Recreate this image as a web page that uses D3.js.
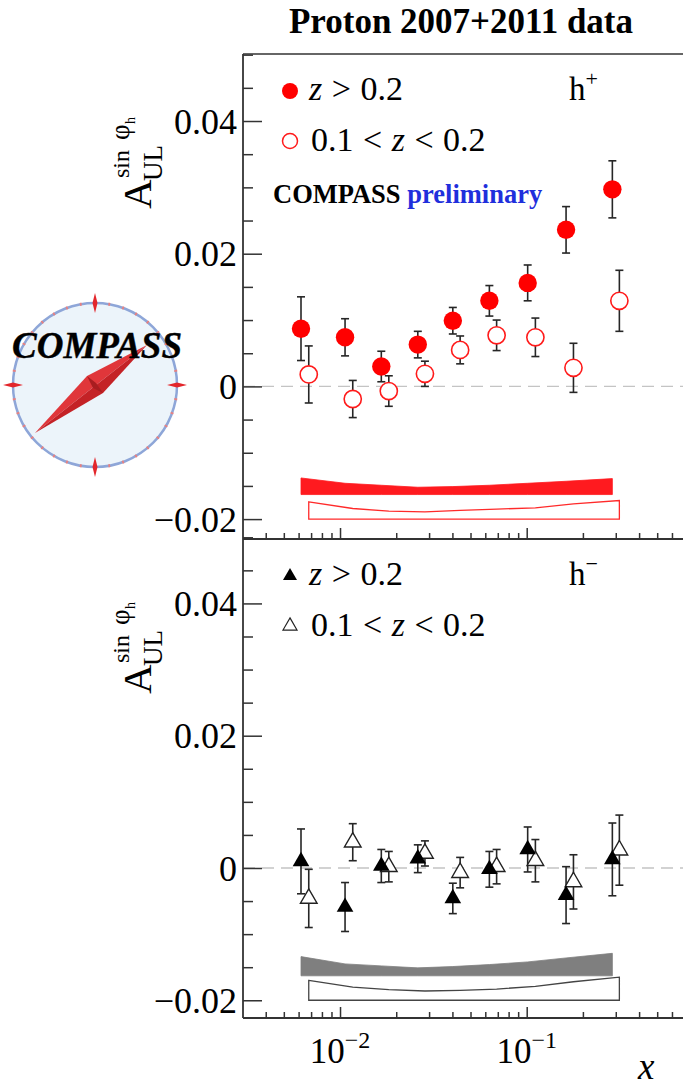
<!DOCTYPE html>
<html><head><meta charset="utf-8">
<script src="https://cdn.jsdelivr.net/npm/d3@7"></script>
<style>
body{margin:0;background:#fff}
svg{display:block}
svg text{font-family:"Liberation Serif","Times New Roman","DejaVu Serif",serif !important;fill:#000}
</style>
</head><body>
<svg id="c" width="683" height="1088"></svg>
<script>
// ---------------- data ----------------
const xHigh = [0.00618, 0.01064, 0.01664, 0.0261, 0.0402, 0.0631, 0.1012, 0.1625, 0.2876]; // z > 0.2
const xLow  = [0.00680, 0.01170, 0.01825, 0.0285, 0.0440, 0.0690, 0.1113, 0.178, 0.3136]; // 0.1 < z < 0.2

// h+ (top panel)
const hpHighVal = [0.0087, 0.0074, 0.0030, 0.0063, 0.0099, 0.0129, 0.0156, 0.0236, 0.0297];
const hpHighErr = [0.0048, 0.0028, 0.0023, 0.0020, 0.0020, 0.0023, 0.0027, 0.0035, 0.0043];
const hpHighSys = [0.0025, 0.0017, 0.0014, 0.0011, 0.0012, 0.0014, 0.0017, 0.0020, 0.0024];
const hpLowVal  = [0.0018, -0.0019, -0.0007, 0.0019, 0.0055, 0.0077, 0.0074, 0.0028, 0.0129];
const hpLowErr  = [0.0043, 0.0028, 0.0023, 0.0019, 0.0021, 0.0023, 0.0029, 0.0037, 0.0046];
const hpLowSys  = [0.0026, 0.0016, 0.0012, 0.0011, 0.0013, 0.0015, 0.0017, 0.0023, 0.0028];

// h- (bottom panel)
const hmHighVal = [0.0010, -0.0059, 0.0003, 0.0014, -0.0046, -0.0002, 0.0028, -0.0041, 0.0013];
const hmHighErr = [0.0049, 0.0037, 0.0025, 0.0021, 0.0023, 0.0027, 0.0034, 0.0043, 0.0055];
const hmHighSys = [0.0029, 0.0018, 0.0015, 0.0012, 0.0014, 0.0017, 0.0021, 0.0027, 0.0034];
const hmLowVal  = [-0.0046, 0.0039, 0.0002, 0.0022, -0.0007, 0.0002, 0.0011, -0.0021, 0.0027];
const hmLowErr  = [0.0044, 0.0028, 0.0023, 0.0019, 0.0023, 0.0026, 0.0032, 0.0041, 0.0053];
const hmLowSys  = [0.0030, 0.0020, 0.0016, 0.0014, 0.0015, 0.0017, 0.0021, 0.0028, 0.0035];

// systematic band baselines
const bandBaseHigh = -0.0163;
const bandBaseLow  = -0.0200;

const yMajorTicks = [-0.02, 0, 0.02, 0.04];
const yMinorTicks = d3.range(-0.02, 0.0501, 0.005).map(v => +v.toFixed(3)).filter(v => !yMajorTicks.some(m => Math.abs(m - v) < 1e-9));
const xMajorTicks = [0.01, 0.1];
const xMajorLabels = ["−2", "−1"];
const xMinorTicks = [0.004,0.005,0.006,0.007,0.008,0.009,0.02,0.03,0.04,0.05,0.06,0.07,0.08,0.09,0.2,0.3,0.4,0.5,0.6];

// ---------------- layout ----------------
const FONT = '"Liberation Serif","Times New Roman","DejaVu Serif",serif';
const svg = d3.select("#c");
const L = 243, R = 683;
const x = d3.scaleLog().domain([0.003022, 0.6874]).range([L, R]);
const yTop = d3.scaleLinear().domain([-0.0230, 0.0501]).range([539, 54]);
const yBot = d3.scaleLinear().domain([-0.02268, 0.04974]).range([1018, 539]);
const AX = "#333";

// title
svg.append("text").attr("x", 461).attr("y", 33).attr("text-anchor", "middle")
  .attr("font-size", 35).attr("font-weight", "bold").text("Proton 2007+2011 data");

// ---------------- logo ----------------
(function logo(){
  const cx = 95, cy = 385, r = 82;
  const g = svg.append("g");
  g.append("circle").attr("cx", cx).attr("cy", cy).attr("r", r)
    .attr("fill", "#ecf4fa").attr("stroke", "#8ea6d8").attr("stroke-width", 2.5);
  for (let a = 0; a < 360; a += 10) {
    if (a % 90 === 0) continue;
    const t = a * Math.PI / 180;
    g.append("line")
      .attr("x1", cx + (r - 1.5) * Math.cos(t)).attr("y1", cy + (r - 1.5) * Math.sin(t))
      .attr("x2", cx + (r + 1.5) * Math.cos(t)).attr("y2", cy + (r + 1.5) * Math.sin(t))
      .attr("stroke", "#e88080").attr("stroke-width", 1.8);
  }
  for (let a = 0; a < 360; a += 90) {
    const t = a * Math.PI / 180, c = Math.cos(t), s = Math.sin(t);
    const pts = [[cx + (r - 10) * c, cy + (r - 10) * s],
                 [cx + r * c - 2.5 * s, cy + r * s + 2.5 * c],
                 [cx + (r + 10) * c, cy + (r + 10) * s],
                 [cx + r * c + 2.5 * s, cy + r * s - 2.5 * c]];
    g.append("polygon").attr("points", pts.map(p => p.join(",")).join(" ")).attr("fill", "#e3262b");
  }
  const tA = [35, 433], s1 = [87, 376], tB = [147, 345], s2 = [103, 393];
  g.append("polygon").attr("points", [tA, s1, tB].map(p => p.join(",")).join(" ")).attr("fill", "#e0363a");
  g.append("polygon").attr("points", [tA, s2, tB].map(p => p.join(",")).join(" ")).attr("fill", "#c42226");
  g.append("polygon").attr("points", [[87,376],[96,383],[103,393],[93,388]].map(p => p.join(",")).join(" ")).attr("fill", "#a81d20");
  g.append("text").attr("x", 97).attr("y", 358).attr("text-anchor", "middle")
    .attr("font-size", 37).attr("font-weight", "bold").attr("font-style", "italic")
    .attr("stroke", "#000").attr("stroke-width", 0.4).text("COMPASS");
})();

// ---------------- panels ----------------
function drawPanel(y, top, bottom, cfg) {
  const g = svg.append("g");

  // zero dashed line
  g.append("line").attr("x1", L).attr("x2", R).attr("y1", y(0)).attr("y2", y(0))
    .attr("stroke", "#c4c4c4").attr("stroke-width", 1.4).attr("stroke-dasharray", "12,7");

  // systematic bands
  const bandHigh = cfg.xs.map((d, i) => ({ x: d, s: cfg.highSys[i] }));
  const bandLow = cfg.xl.map((d, i) => ({ x: d, s: cfg.lowSys[i] }));
  const areaHigh = d3.area().x(d => x(d.x)).y0(y(bandBaseHigh)).y1(d => y(bandBaseHigh + d.s));
  const areaLow = d3.area().x(d => x(d.x)).y0(y(bandBaseLow)).y1(d => y(bandBaseLow + d.s));
  g.append("path").attr("d", areaHigh(bandHigh)).attr("fill", cfg.bandFill).attr("stroke", cfg.bandFill).attr("stroke-width", 0.8);
  g.append("path").attr("d", areaLow(bandLow) + "Z").attr("fill", "#fff").attr("stroke", cfg.bandStroke).attr("stroke-width", 1.3);

  // error bars
  function bars(xs, vals, errs) {
    const data = xs.map((d, i) => ({ x: d, v: vals[i], e: errs[i] }));
    const eg = g.append("g").attr("stroke", "#262626").attr("stroke-width", 1.6);
    eg.selectAll(".v").data(data).join("line")
      .attr("x1", d => x(d.x)).attr("x2", d => x(d.x))
      .attr("y1", d => y(d.v - d.e)).attr("y2", d => y(d.v + d.e));
    eg.selectAll(".t").data(data).join("line")
      .attr("x1", d => x(d.x) - 4).attr("x2", d => x(d.x) + 4)
      .attr("y1", d => y(d.v + d.e)).attr("y2", d => y(d.v + d.e));
    eg.selectAll(".b").data(data).join("line")
      .attr("x1", d => x(d.x) - 4).attr("x2", d => x(d.x) + 4)
      .attr("y1", d => y(d.v - d.e)).attr("y2", d => y(d.v - d.e));
    return data;
  }
  const dHigh = bars(cfg.xs, cfg.highVal, cfg.highErr);
  const dLow = bars(cfg.xl, cfg.lowVal, cfg.lowErr);

  if (cfg.marker === "circle") {
    g.selectAll(".ol").data(dLow).join("circle")
      .attr("cx", d => x(d.x)).attr("cy", d => y(d.v)).attr("r", 8.6)
      .attr("fill", "#fff").attr("stroke", "#ff1a1a").attr("stroke-width", 1.6);
    g.selectAll(".fh").data(dHigh).join("circle")
      .attr("cx", d => x(d.x)).attr("cy", d => y(d.v)).attr("r", 9.2)
      .attr("fill", "#ff0000");
  } else {
    const tri = d3.symbol().type(d3.symbolTriangle).size(120)();
    g.selectAll(".ol").data(dLow).join("path").attr("d", tri)
      .attr("transform", d => `translate(${x(d.x)},${y(d.v)})`)
      .attr("fill", "#fff").attr("stroke", "#222").attr("stroke-width", 1.4);
    g.selectAll(".fh").data(dHigh).join("path").attr("d", tri)
      .attr("transform", d => `translate(${x(d.x)},${y(d.v)})`)
      .attr("fill", "#000");
  }

  // y axis major & minor
  const fmt = v => v === 0 ? "0" : d3.format(".2f")(v);
  const ya = g.append("g").attr("transform", `translate(${L},0)`)
    .call(d3.axisLeft(y).tickValues(yMajorTicks).tickSize(-19).tickPadding(6).tickFormat(fmt))
    .attr("font-family", FONT);
  ya.select(".domain").remove();
  ya.selectAll("line").attr("stroke", AX).attr("stroke-width", 1.5);
  ya.selectAll("text").attr("font-size", 36).style("font-family", FONT).attr("fill", "#000").attr("dy", "0.34em");
  const ym = g.append("g").attr("transform", `translate(${L},0)`)
    .call(d3.axisLeft(y).tickValues(yMinorTicks).tickSize(-10).tickFormat(""));
  ym.select(".domain").remove();
  ym.selectAll("line").attr("stroke", AX).attr("stroke-width", 1.5);

  // x axis ticks (pointing up)
  const xa = g.append("g").attr("transform", `translate(0,${bottom})`)
    .call(d3.axisBottom(x).tickValues(xMajorTicks).tickSize(-11).tickFormat(""));
  xa.select(".domain").remove();
  xa.selectAll("line").attr("stroke", AX).attr("stroke-width", 1.5);
  const xm = g.append("g").attr("transform", `translate(0,${bottom})`)
    .call(d3.axisBottom(x).tickValues(xMinorTicks).tickSize(-6).tickFormat(""));
  xm.select(".domain").remove();
  xm.selectAll("line").attr("stroke", AX).attr("stroke-width", 1.5);

  // frame
  g.append("line").attr("x1", L).attr("x2", L).attr("y1", top).attr("y2", bottom).attr("stroke", AX).attr("stroke-width", 1.8);
  g.append("line").attr("x1", L).attr("x2", R).attr("y1", top).attr("y2", top).attr("stroke", AX).attr("stroke-width", 1.5);
  g.append("line").attr("x1", L).attr("x2", R).attr("y1", bottom).attr("y2", bottom).attr("stroke", AX).attr("stroke-width", 1.8);

  // y title (rotated)
  const t = g.append("g").attr("transform", `translate(151,${top + 155}) rotate(-90)`);
  t.append("text").attr("x", 0).attr("y", 0).attr("font-size", 41).text("A");
  t.append("text").attr("x", 28).attr("y", 11).attr("font-size", 27).text("UL");
  t.append("text").attr("x", 31).attr("y", -22).attr("font-size", 24).text("sin");
  t.append("text").attr("x", 69).attr("y", -22).attr("font-size", 27).text("φ");
  t.append("text").attr("x", 85).attr("y", -16).attr("font-size", 14).text("h");

  // legend
  const lg = g.append("g");
  const ly1 = top + 46, ly2 = top + 97;
  if (cfg.marker === "circle") {
    lg.append("circle").attr("cx", 290).attr("cy", ly1 - 9).attr("r", 8).attr("fill", "#ff0000");
    lg.append("circle").attr("cx", 290).attr("cy", ly2 - 10).attr("r", 7.5).attr("fill", "#fff").attr("stroke", "#ff1a1a").attr("stroke-width", 1.5);
  } else {
    const tri = d3.symbol().type(d3.symbolTriangle).size(85)();
    lg.append("path").attr("d", tri).attr("transform", `translate(290,${ly1 - 9})`).attr("fill", "#000");
    lg.append("path").attr("d", tri).attr("transform", `translate(290,${ly2 - 10})`).attr("fill", "#fff").attr("stroke", "#222").attr("stroke-width", 1.2);
  }
  const t1 = lg.append("text").attr("x", 309).attr("y", ly1).attr("font-size", 34).attr("word-spacing", 1);
  t1.append("tspan").attr("font-style", "italic").text("z");
  t1.append("tspan").text(" > 0.2");
  const t2 = lg.append("text").attr("x", 311).attr("y", ly2).attr("font-size", 34).attr("word-spacing", 1);
  t2.append("tspan").text("0.1 < ");
  t2.append("tspan").attr("font-style", "italic").text("z");
  t2.append("tspan").text(" < 0.2");
  const h = lg.append("text").attr("x", 569).attr("y", ly1).attr("font-size", 33);
  h.append("tspan").text("h");
  h.append("tspan").attr("dy", -14).attr("font-size", 22).text(cfg.charge);
}

drawPanel(yTop, 54, 539, {
  xs: xHigh, xl: xLow,
  highVal: hpHighVal, highErr: hpHighErr, highSys: hpHighSys,
  lowVal: hpLowVal, lowErr: hpLowErr, lowSys: hpLowSys,
  marker: "circle", bandFill: "#ff1a1f", bandStroke: "#ff2a2a", charge: "+"
});
drawPanel(yBot, 539, 1018, {
  xs: xHigh, xl: xLow,
  highVal: hmHighVal, highErr: hmHighErr, highSys: hmHighSys,
  lowVal: hmLowVal, lowErr: hmLowErr, lowSys: hmLowSys,
  marker: "triangle", bandFill: "#7f7f7f", bandStroke: "#444", charge: "−"
});

// COMPASS preliminary
const cp = svg.append("text").attr("x", 273).attr("y", 203).attr("font-size", 26.5).attr("font-weight", "bold");
cp.append("tspan").text("COMPASS ");
cp.append("tspan").attr("fill", "#1f2fdc").style("fill", "#1f2fdc").text("preliminary");

// x tick labels (bottom panel)
xMajorTicks.forEach((v, i) => {
  const tx = svg.append("text").attr("x", x(v)).attr("y", 1063).attr("text-anchor", "middle").attr("font-size", 35);
  tx.append("tspan").text("10");
  tx.append("tspan").attr("dy", -15).attr("font-size", 24).text(xMajorLabels[i]);
});
svg.append("text").attr("x", 638).attr("y", 1079).attr("font-size", 37).attr("font-style", "italic").text("x");
</script>
</body></html>
